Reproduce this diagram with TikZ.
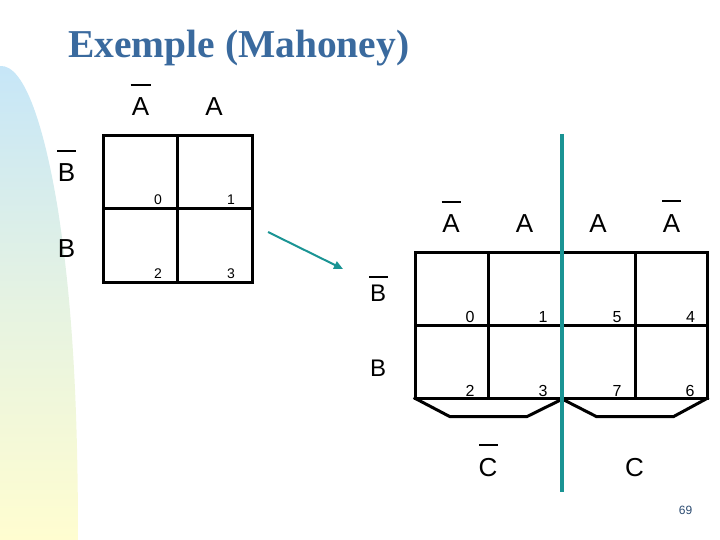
\documentclass[tikz,border=0pt]{standalone}
\usepackage{fontspec}
\setmainfont{Liberation Sans}
\newfontfamily\titlefont{Liberation Serif}
\usetikzlibrary{arrows.meta}
\definecolor{titleblue}{HTML}{3A6A9E}
\definecolor{tealline}{HTML}{1A9494}
\definecolor{blobtop}{HTML}{C6E6F8}
\definecolor{blobbot}{HTML}{FFFDD0}
\definecolor{pagenum}{HTML}{2A4A70}
\begin{document}
\begin{tikzpicture}[x=1pt,y=-1pt,
  gridline/.style={line width=3pt, line cap=rect, black},
  barline/.style={line width=2.4pt, black},
  biglabel/.style={anchor=base, inner sep=0pt, font=\fontsize{26}{26}\selectfont},
  blabel/.style={anchor=base, inner sep=0pt, font=\fontsize{24}{24}\selectfont},
  smallnum/.style={anchor=base, inner sep=0pt, font=\fontsize{14}{14}\selectfont},
  bignum/.style={anchor=base, inner sep=0pt, font=\fontsize{16}{16}\selectfont},
  tealstroke/.style={line width=3.5pt, tealline}
]
\useasboundingbox (0,0) rectangle (720,540);
% background blob
\shade[top color=blobtop, bottom color=blobbot, middle color=blobtop!45!blobbot]
  (0,540) -- (0,66) .. controls (25,64) and (45,130) .. (58,210)
  .. controls (72,300) and (78,400) .. (78,540) -- cycle;

% title
\node[anchor=base west, inner sep=0pt, text=titleblue,
  font=\titlefont\bfseries\fontsize{39.5}{40}\selectfont] (title) at (68,58) {Exemple (Mahoney)};

% ---------- small map ----------
\draw[gridline] (103,136) rectangle (252,282);
\draw[gridline] (103,209) -- (252,209);
\draw[gridline] (177,136) -- (177,282);
\node[biglabel] (sa0) at (140.5,116) {A};
\node[biglabel] (sa1) at (214,116) {A};
\draw[barline] (130.5,85) -- (150.5,85);
\node[biglabel] (sb0) at (66.5,182) {B};
\node[biglabel] (sb1) at (66.5,258) {B};
\draw[barline] (57,151) -- (76,151);
\node[smallnum] (s0) at (158,205) {0};
\node[smallnum] (s1) at (231,205) {1};
\node[smallnum] (s2) at (158,278) {2};
\node[smallnum] (s3) at (231,278) {3};

% arrow
\coordinate (arrS) at (268,232);
\coordinate (arrE) at (343,269);
\draw[line width=2pt, tealline, -{Triangle[length=9pt,width=8pt]}] (arrS) -- (arrE);

% ---------- big map ----------
\draw[gridline] (415,252.3) rectangle (707.3,398.3);
\draw[gridline] (415,325) -- (707.3,325);
\draw[gridline] (488.3,252.3) -- (488.3,398.3);
\draw[gridline] (562,252.3) -- (562,398.3);
\draw[gridline] (635.7,252.3) -- (635.7,398.3);
% brackets
\draw[gridline, line join=miter] (415,398.3) -- (450,416.7) -- (526.7,416.7) -- (559.5,400.5);
\draw[gridline, line join=miter] (565,400.5) -- (596.7,416.7) -- (673.3,416.7) -- (707.3,398.3);

\node[biglabel] (ba0) at (451,233) {A};
\node[biglabel] (ba1) at (524.5,233) {A};
\node[biglabel] (ba2) at (598,233) {A};
\node[biglabel] (ba3) at (671.5,233) {A};
\draw[barline] (441.5,202) -- (460.5,202);
\draw[barline] (662,201) -- (681,201);
\node[blabel] (bb0) at (378,301) {B};
\node[blabel] (bb1) at (378,376) {B};
\draw[barline] (369,277) -- (387.5,277);
\node[biglabel] (bc0) at (488,476) {C};
\node[biglabel] (bc1) at (634.5,476) {C};
\draw[barline] (479,445) -- (497.5,445);

\node[bignum] (b0) at (470,322) {0};
\node[bignum] (b1) at (543,322) {1};
\node[bignum] (b5) at (617,322) {5};
\node[bignum] (b4) at (690.5,322) {4};
\node[bignum] (b2) at (470,396) {2};
\node[bignum] (b3) at (543,396) {3};
\node[bignum] (b7) at (617,396) {7};
\node[bignum] (b6) at (690,396) {6};

% teal divider
\draw[tealstroke] (562,134) -- (562,492);

% page number
\node[anchor=base, inner sep=0pt, text=pagenum, font=\fontsize{12}{12}\selectfont] (pg) at (685.5,514) {69};
\end{tikzpicture}
\end{document}
